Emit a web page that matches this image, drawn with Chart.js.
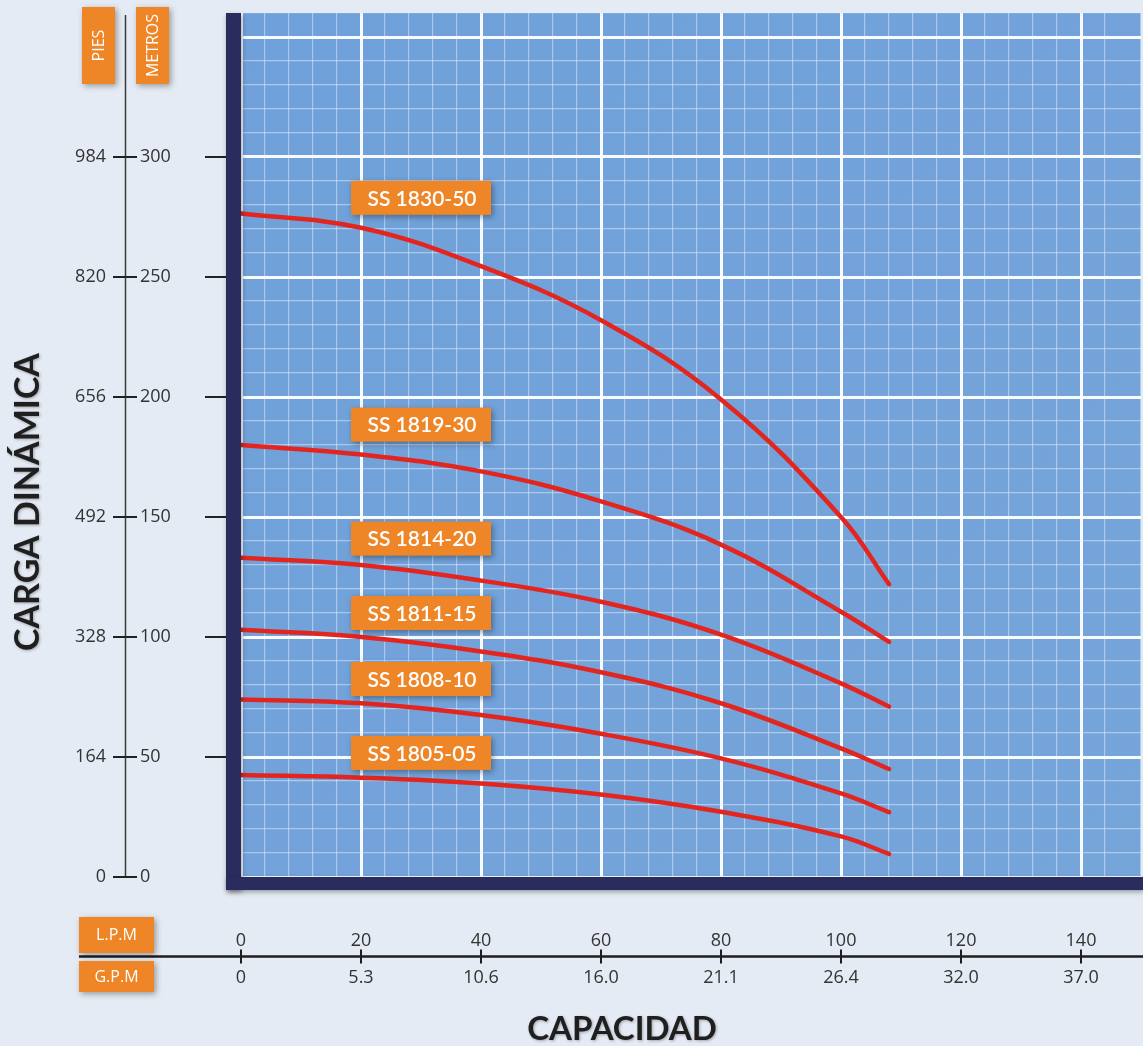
<!DOCTYPE html>
<html><head><meta charset="utf-8">
<script src="https://cdn.jsdelivr.net/npm/chart.js@4.4.1/dist/chart.umd.min.js"></script>
<style>html,body{margin:0;padding:0;background:#e5ebf4;overflow:hidden}canvas{display:block}</style>
</head><body>
<canvas id="c" width="1143" height="1046"></canvas>
<script>
// ---- data ----
const lpm = [0, 20, 40, 60, 80, 100, 108];
const ss1830_50 = [276.5, 270.5, 254.5, 232, 199, 150, 122];
const ss1819_30 = [180, 176, 169, 156.5, 138.5, 110.5, 98];
const ss1814_20 = [133, 130, 123.5, 114.7, 101, 80.7, 71];
const ss1811_15 = [103, 100, 94, 85.3, 72.4, 53.6, 45];
const ss1808_10 = [74, 72.4, 67.5, 59.7, 49.4, 34.8, 27];
const ss1805_05 = [42.5, 41.4, 39, 34.4, 27.2, 16.9, 9.6];
const seriesNames = ['SS 1830-50', 'SS 1819-30', 'SS 1814-20', 'SS 1811-15', 'SS 1808-10', 'SS 1805-05'];
const seriesValues = [ss1830_50, ss1819_30, ss1814_20, ss1811_15, ss1808_10, ss1805_05];
const metrosTicks = [0, 50, 100, 150, 200, 250, 300];
const piesTicks = ['0', '164', '328', '492', '656', '820', '984'];
const lpmTicks = [0, 20, 40, 60, 80, 100, 120, 140];
const gpmTicks = ['0', '5.3', '10.6', '16.0', '21.1', '26.4', '32.0', '37.0'];

// label anchors (in chart units: LPM, metros) for the orange tags
const tagLpm = 30;
const tagHeads = [283, 188.5, 141, 110, 82.5, 51.7];

const NAVY = '#2b2c5e', ORANGE = '#ee8527', RED = '#e2261f', TXT = '#333333';
const SANS = '"Open Sans", "Noto Sans", sans-serif';
const HEAD = 'Lato, "Noto Sans", sans-serif';

function box(ctx, x, y, w, h) {
  ctx.save();
  ctx.shadowColor = 'rgba(0,0,0,0.35)'; ctx.shadowBlur = 6; ctx.shadowOffsetX = 2; ctx.shadowOffsetY = 2;
  ctx.fillStyle = ORANGE; ctx.fillRect(x, y, w, h);
  ctx.restore();
}

const deco = {
  id: 'deco',
  beforeDraw(chart) {
    const {ctx, chartArea: a} = chart;
    ctx.save();
    ctx.fillStyle = '#e5ebf4'; ctx.fillRect(0, 0, chart.width, chart.height);
    const g = ctx.createLinearGradient(a.left, a.top, a.right, a.bottom);
    g.addColorStop(0, '#6fa0d9'); g.addColorStop(1, '#76a5da');
    ctx.fillStyle = g; ctx.fillRect(a.left, a.top, a.right - a.left, a.bottom - a.top);
    ctx.restore();
  },
  afterDatasetsDraw(chart) {
    const {ctx, chartArea: a, scales: {x, y}} = chart;
    ctx.save();
    // navy frame
    ctx.shadowColor = 'rgba(0,0,0,0.35)'; ctx.shadowBlur = 5; ctx.shadowOffsetX = 1; ctx.shadowOffsetY = 2;
    ctx.fillStyle = NAVY;
    ctx.fillRect(a.left - 15, a.top, 15, a.bottom + 13 - a.top);
    ctx.fillRect(a.left - 15, a.bottom, chart.width - (a.left - 15), 13);
    ctx.restore();

    // series tags
    ctx.save();
    seriesNames.forEach((name, i) => {
      const cx = x.getPixelForValue(tagLpm), cy = y.getPixelForValue(tagHeads[i]);
      box(ctx, cx - 70, cy - 17, 140, 34);
      ctx.fillStyle = '#ffffff'; ctx.font = '600 21px ' + HEAD;
      ctx.textAlign = 'center'; ctx.textBaseline = 'middle';
      ctx.fillText(name, cx + 1, cy + 1);
    });
    ctx.restore();

    // left double axis
    ctx.save();
    const axX = 125.5;
    const y0 = y.getPixelForValue(0);
    ctx.strokeStyle = '#3a3a3a'; ctx.lineWidth = 1.5;
    ctx.beginPath(); ctx.moveTo(axX, 15); ctx.lineTo(axX, y0); ctx.stroke();
    ctx.font = '18px ' + SANS; ctx.fillStyle = TXT; ctx.textBaseline = 'middle';
    metrosTicks.forEach((m, i) => {
      const py = y.getPixelForValue(m);
      ctx.strokeStyle = '#222'; ctx.lineWidth = 2;
      ctx.beginPath(); ctx.moveTo(113, py); ctx.lineTo(137, py); ctx.stroke();
      if (m > 0) { ctx.beginPath(); ctx.moveTo(205, py); ctx.lineTo(a.left - 15, py); ctx.stroke(); }
      ctx.textAlign = 'left'; ctx.fillText(String(m), 140, py);
      ctx.textAlign = 'right'; ctx.fillText(piesTicks[i], 106, py);
    });
    // unit tabs
    [['PIES', 82], ['METROS', 136]].forEach(([t, bx]) => {
      box(ctx, bx, 7, 33, 77);
      ctx.save();
      ctx.translate(bx + 16.5, 45.5); ctx.rotate(-Math.PI / 2);
      ctx.fillStyle = '#fff'; ctx.font = '16px ' + SANS; ctx.textAlign = 'center'; ctx.textBaseline = 'middle';
      ctx.fillText(t, 0, 1);
      ctx.restore();
    });
    ctx.restore();

    // bottom double axis
    ctx.save();
    const by = 956.5;
    ctx.strokeStyle = '#1e1e1e'; ctx.lineWidth = 2.5;
    ctx.beginPath(); ctx.moveTo(79, by); ctx.lineTo(chart.width, by); ctx.stroke();
    ctx.font = '18px ' + SANS; ctx.fillStyle = TXT; ctx.textAlign = 'center'; ctx.textBaseline = 'middle';
    lpmTicks.forEach((v, i) => {
      const px = x.getPixelForValue(v);
      ctx.lineWidth = 2;
      ctx.beginPath(); ctx.moveTo(px, by - 7); ctx.lineTo(px, by + 7); ctx.stroke();
      ctx.fillText(String(v), px, by - 16);
      ctx.fillText(gpmTicks[i], px, by + 21);
    });
    box(ctx, 79, 917, 75, 36);
    box(ctx, 79, 961, 75, 31);
    ctx.fillStyle = '#fff'; ctx.font = '16px ' + SANS;
    ctx.fillText('L.P.M', 116.5, 935);
    ctx.fillText('G.P.M', 116.5, 977);
    ctx.restore();

    // titles
    ctx.save();
    ctx.shadowColor = 'rgba(0,0,0,0.3)'; ctx.shadowBlur = 3; ctx.shadowOffsetX = 1; ctx.shadowOffsetY = 1;
    ctx.fillStyle = '#1f1f1f'; ctx.textAlign = 'center'; ctx.textBaseline = 'middle';
    ctx.font = 'bold 33px ' + HEAD;
    ctx.fillText('CAPACIDAD', 622, 1029);
    ctx.translate(28, 502); ctx.rotate(-Math.PI / 2);
    ctx.font = 'bold 34px ' + HEAD;
    ctx.fillText('CARGA DINÁMICA', 0, 0);
    ctx.restore();
  }
};

const datasets = seriesNames.map((name, i) => ({
  label: name,
  data: lpm.map((q, j) => ({x: q, y: seriesValues[i][j]})),
  borderColor: RED,
  borderWidth: 4.5,
  pointRadius: 0,
  tension: 0.4,
  borderCapStyle: 'round',
  fill: false
}));

const isMajor = (v, step) => Math.abs(v % step) < 1e-6;

new Chart(document.getElementById('c'), {
  type: 'line',
  data: {datasets},
  plugins: [deco],
  options: {
    responsive: false,
    animation: false,
    layout: {padding: {left: 241, top: 13, right: 2, bottom: 169}},
    plugins: {legend: {display: false}, tooltip: {enabled: false}},
    scales: {
      x: {
        type: 'linear', min: 0, max: 150,
        ticks: {display: false, stepSize: 4},
        border: {display: false},
        grid: {
          drawTicks: false,
          color: c => isMajor(c.tick.value, 20) ? 'rgba(255,255,255,0.95)' : 'rgba(230,240,255,0.5)',
          lineWidth: c => isMajor(c.tick.value, 20) ? 3 : 1.2
        }
      },
      y: {
        type: 'linear', min: 0, max: 360,
        ticks: {display: false, stepSize: 10},
        border: {display: false},
        grid: {
          drawTicks: false,
          color: c => isMajor(c.tick.value, 50) ? 'rgba(255,255,255,0.95)' : 'rgba(230,240,255,0.5)',
          lineWidth: c => isMajor(c.tick.value, 50) ? 3 : 1.2
        }
      }
    }
  }
});
</script>
</body></html>
